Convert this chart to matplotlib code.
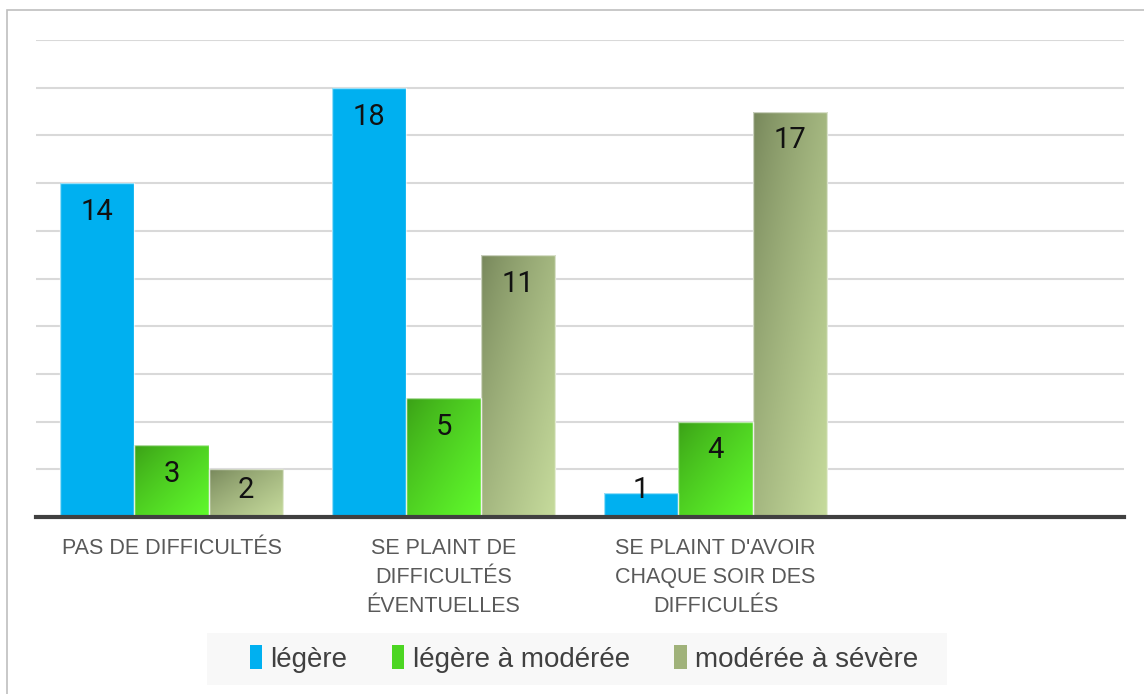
import numpy as np
import matplotlib
matplotlib.use("Agg")
import matplotlib.pyplot as plt
from matplotlib.patches import Rectangle, Patch
from matplotlib import font_manager as fm
from matplotlib.colors import to_rgb

# ---- data ----
categories = ["PAS DE DIFFICULTÉS",
              "SE PLAINT DE\nDIFFICULTÉS\nÉVENTUELLES",
              "SE PLAINT D'AVOIR\nCHAQUE SOIR DES\nDIFFICULÉS",
              ""]
series_names = ["légère", "légère à modérée", "modérée à sévère"]
legere = [14, 18, 1, None]
legere_moderee = [3, 5, 4, None]
moderee_severe = [2, 11, 17, None]
series_values = [legere, legere_moderee, moderee_severe]
y_ticks = list(range(0, 21, 2))

# ---- styles ----
names = {f.name for f in fm.fontManager.ttflist}
narrow = "Liberation Sans Narrow" if "Liberation Sans Narrow" in names else "Liberation Sans"
num_font = "Roboto" if "Roboto" in names else "DejaVu Sans"

blue = "#00B0F0"
grad_green = ("#3A9E16", "#60FA2C")
grad_olive = ("#76865A", "#C6DB9C")
fills = [None, grad_green, grad_olive]
solid = [blue, "#4CD622", "#A0B27A"]

W, H, DPI = 1144, 694, 100
fig = plt.figure(figsize=(W / DPI, H / DPI), dpi=DPI)
fig.patch.set_facecolor("white")

# outer chart border
fig.add_artist(Rectangle((7 / W, -0.1), 1.2, 1.1 - 10 / H, transform=fig.transFigure,
                         fill=False, edgecolor="#BFBFBF", lw=1.2))

ax = fig.add_axes([35.5 / W, 1 - 517 / H, (1123.5 - 35.5) / W, (517 - 40) / H])
ax.set_xlim(-0.5, len(categories) - 0.5)
ax.set_ylim(0, 20)
for s in ax.spines.values():
    s.set_visible(False)
ax.set_yticks(y_ticks)
ax.yaxis.grid(True, color="#D9D9D9", lw=1.5)
ax.tick_params(axis="y", length=0, labelleft=False)
ax.set_axisbelow(True)

bw = 0.2735
x = np.arange(len(categories))

def grad_img(c0, c1, n=80, m=40):
    c0, c1 = np.array(to_rgb(c0)), np.array(to_rgb(c1))
    v = np.linspace(0, 1, n)[:, None]
    u = np.linspace(0, 1, m)[None, :]
    t = (u + v) / 2
    t = t ** 0.8
    return c0[None, None, :] * (1 - t[..., None]) + c1[None, None, :] * t[..., None]

for i, vals in enumerate(series_values):
    xs = [xi + (i - 1) * bw for xi, v in zip(x, vals) if v is not None]
    vs = [v for v in vals if v is not None]
    bars = ax.bar(xs, vs, width=bw, color=solid[i], edgecolor="none", zorder=2)
    if fills[i] is not None:
        img = grad_img(*fills[i])
        for p in bars:
            x0, y0 = p.get_x(), p.get_y()
            im = ax.imshow(img, extent=(x0, x0 + p.get_width(), y0, y0 + p.get_height()),
                           origin="upper", aspect="auto", zorder=2.2, interpolation="bilinear")
            im.set_clip_path(p)
    ax.bar(xs, vs, width=bw, facecolor="none", edgecolor=(1, 1, 1, 0.6), lw=1.0, zorder=2.5)
    for xi, v in zip(xs, vs):
        ax.text(xi, max(v - 1.21, 1.125), str(v), ha="center", va="center",
                fontsize=21, color="#111111", family=num_font, zorder=4)

ax.set_xlim(-0.5, len(categories) - 0.5)
ax.set_ylim(0, 20)
ax.axhline(0, color="#404040", lw=3.0, zorder=5, clip_on=False)

ax.set_xticks(x)
ax.set_xticklabels(categories, fontsize=15.5, color="#595959", family=narrow,
                   linespacing=1.5)
ax.tick_params(axis="x", length=0, pad=15)

# legend
fig.add_artist(Rectangle((207 / W, 1 - 685 / H), (947 - 207) / W, 52 / H,
                         transform=fig.transFigure, facecolor="#F8F8F8", edgecolor="none"))
handles = [Patch(facecolor=solid[i], edgecolor="none") for i in range(3)]
leg = fig.legend(handles, series_names, loc="center", bbox_to_anchor=(584 / W, 1 - 659 / H),
                 ncol=3, frameon=False, handlelength=0.45, handleheight=0.9,
                 handletextpad=0.3, columnspacing=1.6,
                 prop={"family": narrow, "size": 20})
for t in leg.get_texts():
    t.set_color("#404040")

fig.savefig("out.png", dpi=DPI)
